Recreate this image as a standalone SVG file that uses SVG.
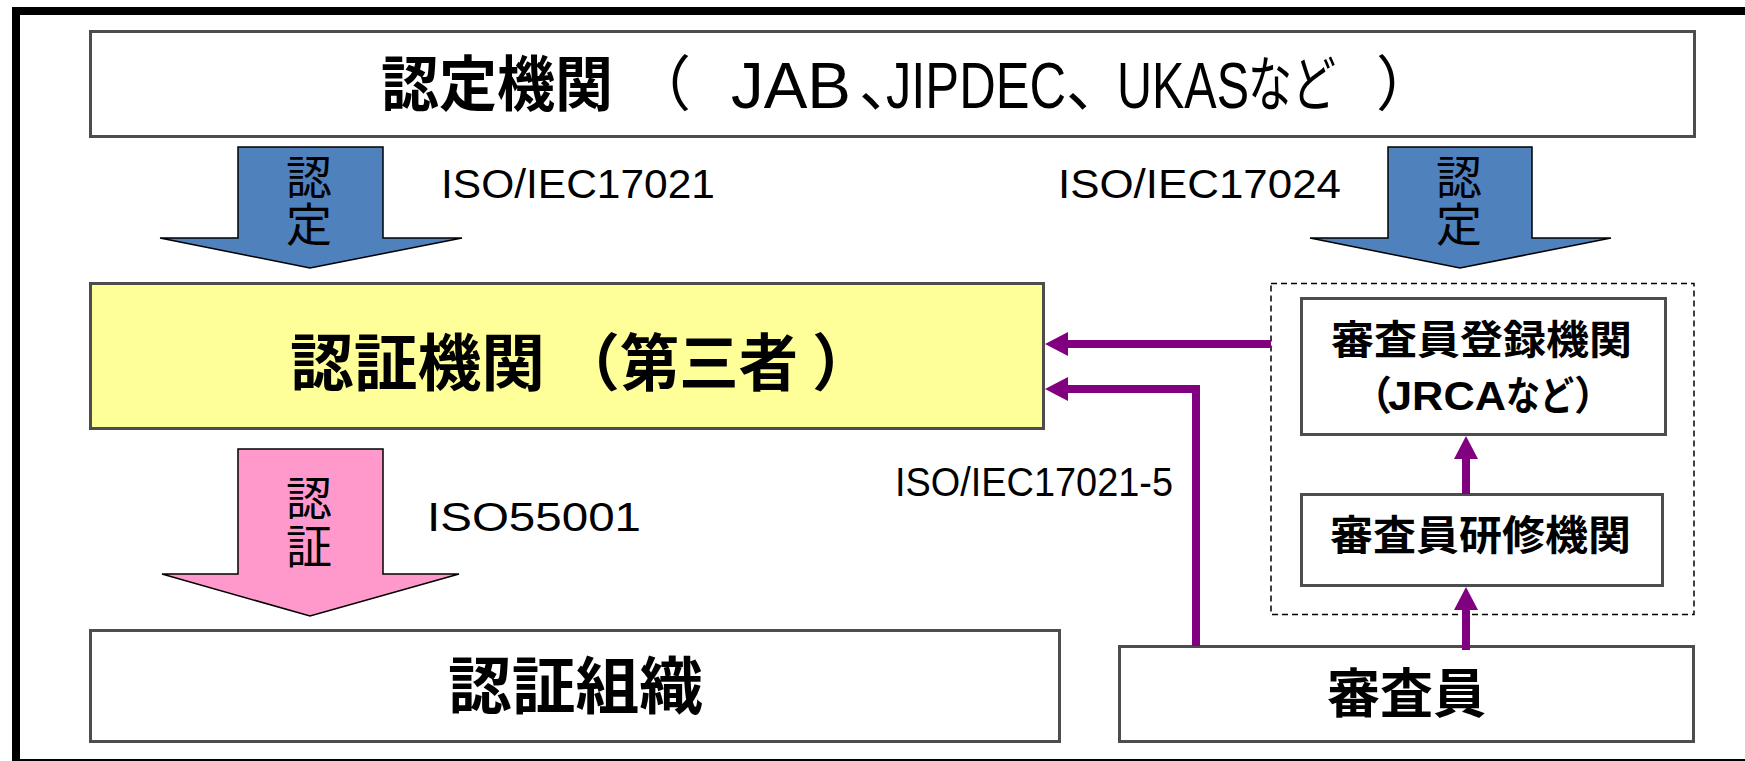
<svg xmlns="http://www.w3.org/2000/svg" width="1745" height="761" viewBox="0 0 1745 761">
<style>
.box{fill:#fff;stroke:#4d4d4d;stroke-width:3}
.jp{font-family:"Noto Sans CJK JP","Liberation Sans",sans-serif;fill:#000}
.lat{font-family:"Liberation Sans","Noto Sans CJK JP",sans-serif;fill:#000}
.b{font-weight:bold}
.n{font-weight:normal}
.lbl{font-family:"Liberation Sans","Noto Sans CJK JP",sans-serif;font-size:41px;fill:#000}
.conn{fill:none;stroke:#800080;stroke-width:8}
.head{fill:#800080}
.blue{fill:#4F81BD;stroke:#000;stroke-width:1.5}
.pink{fill:#FF99CC;stroke:#000;stroke-width:1.5}
</style>
<rect x="0" y="0" width="1745" height="761" fill="#fff"/>
<rect x="16" y="11" width="1760" height="752" fill="none" stroke="#000" stroke-width="8"/>

<g id="node-ninteikikan">
<rect class="box" x="90.5" y="31.5" width="1604" height="105"/>
<text class="jp" font-size="60" y="106"><tspan class="b" x="381" textLength="232" lengthAdjust="spacingAndGlyphs">認定機関</tspan><tspan class="n" x="631">（</tspan><tspan class="lat n" font-size="64" y="108" x="731" textLength="120" lengthAdjust="spacingAndGlyphs">JAB</tspan><tspan class="n" x="859" y="106">、</tspan><tspan class="lat n" font-size="64" y="108" x="886" textLength="180" lengthAdjust="spacingAndGlyphs">JIPDEC</tspan><tspan class="n" x="1066" y="106">、</tspan><tspan class="lat n" font-size="64" y="108" x="1117" textLength="132" lengthAdjust="spacingAndGlyphs">UKAS</tspan><tspan class="n" x="1248" y="106" textLength="88" lengthAdjust="spacingAndGlyphs">など</tspan><tspan class="n" x="1376">）</tspan></text>
</g>

<g id="arrow-nintei-left">
<polygon class="blue" points="238,147 383,147 383,238 462,238 310,268 160,238 238,238"/>
<text class="jp" font-size="46" text-anchor="middle"><tspan x="309" y="194">認</tspan><tspan x="309" y="241">定</tspan></text>
</g>
<text class="lbl" x="441" y="198" textLength="274" lengthAdjust="spacingAndGlyphs">ISO/IEC17021</text>

<g id="arrow-nintei-right">
<polygon class="blue" points="1388,147 1532,147 1532,238 1611,238 1460,268 1310,238 1388,238"/>
<text class="jp" font-size="46" text-anchor="middle"><tspan x="1459" y="194">認</tspan><tspan x="1459" y="241">定</tspan></text>
</g>
<text class="lbl" x="1058" y="198" textLength="283" lengthAdjust="spacingAndGlyphs">ISO/IEC17024</text>

<g id="node-ninshokikan">
<rect x="90.5" y="283.5" width="953" height="145" fill="#FFFF99" stroke="#4d4d4d" stroke-width="3"/>
<text class="jp b" font-size="62" y="386"><tspan x="290" textLength="255" lengthAdjust="spacingAndGlyphs">認証機関</tspan><tspan x="558">（</tspan><tspan x="620" textLength="178" lengthAdjust="spacingAndGlyphs">第三者</tspan><tspan x="812">）</tspan></text>
</g>

<g id="arrow-ninsho">
<polygon class="pink" points="238,449 383,449 383,574 459,574 310,616 162,574 238,574"/>
<text class="jp" font-size="46" text-anchor="middle"><tspan x="309" y="515">認</tspan><tspan x="309" y="563">証</tspan></text>
</g>
<text class="lbl" x="427" y="531" textLength="214" lengthAdjust="spacingAndGlyphs">ISO55001</text>

<g id="node-ninshososhiki">
<rect class="box" x="90.5" y="630.5" width="969" height="111"/>
<text class="jp b" font-size="62" x="448" y="709" textLength="255" lengthAdjust="spacingAndGlyphs">認証組織</text>
</g>

<g id="group-dashed">
<rect x="1271" y="283.5" width="423" height="331" fill="none" stroke="#000" stroke-width="1.5" stroke-dasharray="6,4"/>
</g>

<g id="node-touroku">
<rect class="box" x="1301.5" y="298.5" width="364" height="136"/>
<text class="jp b" font-size="40"><tspan x="1331" y="354" textLength="301" lengthAdjust="spacingAndGlyphs">審査員登録機関</tspan><tspan x="1352" y="410">（</tspan><tspan class="lat b" x="1388" y="410" textLength="118" lengthAdjust="spacingAndGlyphs">JRCA</tspan><tspan x="1506" y="410" textLength="68" lengthAdjust="spacingAndGlyphs">など</tspan><tspan x="1574" y="410">）</tspan></text>
</g>

<g id="node-kenshu">
<rect class="box" x="1301.5" y="494.5" width="361" height="91"/>
<text class="jp b" font-size="41" x="1330" y="550" textLength="301" lengthAdjust="spacingAndGlyphs">審査員研修機関</text>
</g>

<g id="node-shinsain">
<rect class="box" x="1119.5" y="646.5" width="574" height="95"/>
<text class="jp b" font-size="53" x="1327" y="713" textLength="159" lengthAdjust="spacingAndGlyphs">審査員</text>
</g>

<g id="connectors">
<line class="conn" x1="1271" y1="344" x2="1066" y2="344"/>
<polygon class="head" points="1045,344 1068,332 1068,356"/>
<polyline class="conn" points="1196,646 1196,389 1066,389"/>
<polygon class="head" points="1045,389 1068,377 1068,401"/>
<line class="conn" x1="1466" y1="494" x2="1466" y2="456"/>
<polygon class="head" points="1466,436 1454,459 1478,459"/>
<line class="conn" x1="1466" y1="650" x2="1466" y2="607"/>
<polygon class="head" points="1466,587 1454,610 1478,610"/>
</g>
<text class="lbl" x="895" y="496" textLength="278" lengthAdjust="spacingAndGlyphs">ISO/IEC17021-5</text>
</svg>
